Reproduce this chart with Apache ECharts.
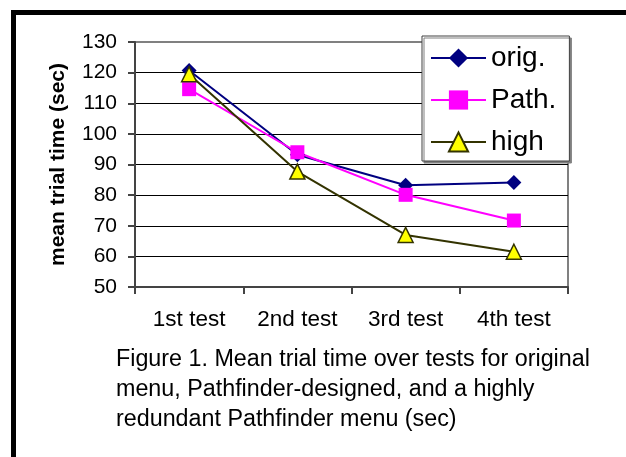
<!DOCTYPE html>
<html>
<head>
<meta charset="utf-8">
<script src="https://cdn.jsdelivr.net/npm/echarts@6/dist/echarts.min.js"></script>
<style>
  html, body { margin: 0; padding: 0; background: #fff; }
  #chart { width: 626px; height: 457px; }
</style>
</head>
<body>
<div id="chart"></div>
<script>
var categories = ["1st test", "2nd test", "3rd test", "4th test"];
var origValues = [120.7, 93.2, 83.2, 84.1];
var pathValues = [114.6, 94.0, 80.1, 71.7];
var highValues = [119.5, 87.7, 67.0, 61.5];
var seriesNames = ["orig.", "Path.", "high"];
var captionLines = [
  "Figure 1. Mean trial time over tests for original",
  "menu, Pathfinder-designed, and a highly",
  "redundant Pathfinder menu (sec)"
];

var font = "Liberation Sans, Arial, sans-serif";
var myChart = echarts.init(document.getElementById("chart"));

// caption text + the black frame on top and left
var graphics = [
  { type: "rect", shape: { x: 11, y: 10, width: 615, height: 5 }, style: { fill: "#000" } },
  { type: "rect", shape: { x: 11, y: 10, width: 5, height: 447 }, style: { fill: "#000" } }
];
for (var i = 0; i < captionLines.length; i++) {
  graphics.push({
    type: "text",
    left: 116,
    top: 348 + i * 30,
    style: { text: captionLines[i], font: "23.3px " + font, fill: "#000" }
  });
}

var option = {
  animation: false,
  backgroundColor: "#fff",
  textStyle: { fontFamily: font },
  grid: {
    left: 135, right: 58, top: 42, bottom: 170,
    show: true, borderColor: "#808080", borderWidth: 2, backgroundColor: "#fff"
  },
  legend: {
    orient: "vertical",
    left: 422, top: 36,
    padding: [7, 13, 4, 8],
    itemWidth: 55, itemHeight: 24, itemGap: 12,
    backgroundColor: "#fff",
    borderColor: "#404040", borderWidth: 1,
    shadowColor: "#808080", shadowBlur: 0, shadowOffsetX: 2, shadowOffsetY: 2,
    textStyle: { fontSize: 28, color: "#000", lineHeight: 30, fontFamily: font },
    data: seriesNames
  },
  xAxis: {
    type: "category",
    data: categories,
    boundaryGap: true,
    axisLine: { lineStyle: { color: "#444", width: 2 } },
    axisTick: { show: true, length: 7, lineStyle: { color: "#444", width: 2 } },
    axisLabel: { fontSize: 22.5, color: "#000", margin: 21, fontFamily: font }
  },
  yAxis: {
    type: "value",
    min: 50, max: 130, interval: 10,
    name: "mean trial time (sec)",
    nameLocation: "middle",
    nameGap: 66,
    nameTextStyle: { fontSize: 21, fontWeight: "bold", color: "#000", fontFamily: font },
    axisLine: { show: true, lineStyle: { color: "#444", width: 2 } },
    axisTick: { show: true, length: 7, lineStyle: { color: "#444", width: 2 } },
    axisLabel: { fontSize: 21, color: "#000", margin: 18, fontFamily: font },
    splitLine: { show: true, showMaxLine: false, lineStyle: { color: "#000", width: 1 } }
  },
  series: [
    {
      name: seriesNames[0], type: "line", data: origValues,
      symbol: "diamond", symbolSize: 15,
      lineStyle: { color: "#000080", width: 2 },
      itemStyle: { color: "#000080" }
    },
    {
      name: seriesNames[1], type: "line", data: pathValues,
      symbol: "rect", symbolSize: 14,
      lineStyle: { color: "#FF00FF", width: 2 },
      itemStyle: { color: "#FF00FF" }
    },
    {
      name: seriesNames[2], type: "line", data: highValues,
      symbol: "triangle", symbolSize: 15,
      lineStyle: { color: "#333300", width: 2 },
      itemStyle: { color: "#FFFF00", borderColor: "#333300", borderWidth: 1.5 }
    }
  ],
  graphic: graphics
};

myChart.setOption(option);
</script>
</body>
</html>
